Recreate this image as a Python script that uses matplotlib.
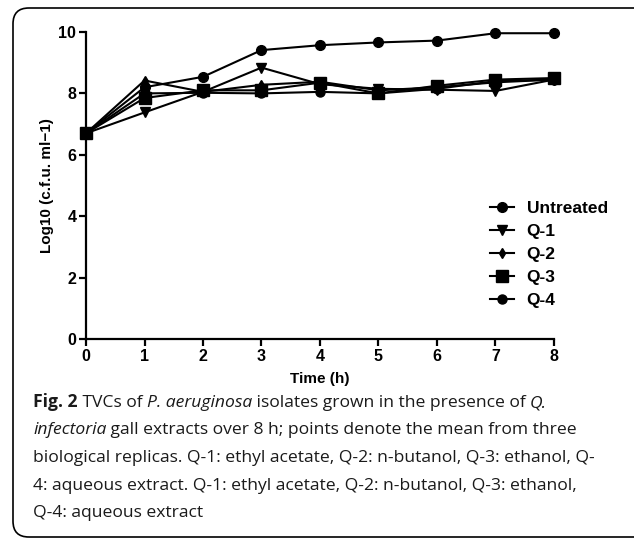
import matplotlib
matplotlib.use('Agg')
import matplotlib.pyplot as plt
from matplotlib.patches import FancyBboxPatch
import numpy as np

hours = [0, 1, 2, 3, 4, 5, 6, 7, 8]
untreated = [6.7, 8.2, 8.54, 9.41, 9.57, 9.66, 9.72, 9.96, 9.96]
q1 = [6.7, 7.38, 8.05, 8.84, 8.3, 8.15, 8.12, 8.08, 8.45]
q2 = [6.7, 8.42, 8.05, 8.28, 8.38, 8.1, 8.2, 8.36, 8.45]
q3 = [6.7, 7.85, 8.1, 8.1, 8.35, 8.0, 8.25, 8.45, 8.5]
q4 = [6.7, 8.0, 8.02, 8.0, 8.05, 8.0, 8.15, 8.4, 8.45]

series = [
    ('Untreated', untreated, 'o', 7),
    ('Q-1', q1, 'v', 7),
    ('Q-2', q2, 'd', 5),
    ('Q-3', q3, 's', 9),
    ('Q-4', q4, 'o', 6.5),
]

plt.rcParams['font.family'] = ['Liberation Sans', 'DejaVu Sans']

fig = plt.figure(figsize=(6.34, 5.40), dpi=100)

# rounded frame round the figure and caption
box = FancyBboxPatch((13 / 634, 3 / 540), 640 / 634, 529 / 540,
                     boxstyle='round,pad=0,rounding_size=0.025',
                     transform=fig.transFigure, fill=False,
                     edgecolor='black', linewidth=1.2, mutation_aspect=634 / 540)
fig.patches.append(box)

ax = fig.add_axes([86 / 634, 1 - 339 / 540, 468 / 634, 307 / 540])
for name, vals, mk, ms in series:
    ax.plot(hours, vals, color='black', marker=mk, markersize=ms,
            linewidth=1.5, label=name, clip_on=False)

ax.set_xlim(0, 8)
ax.set_ylim(0, 10)
ax.set_xticks(range(0, 9))
ax.set_yticks([0, 2, 4, 6, 8, 10])
for s in ['top', 'right']:
    ax.spines[s].set_visible(False)
for s in ['left', 'bottom']:
    ax.spines[s].set_linewidth(1.6)
ax.tick_params(width=1.6, length=5, labelsize=11.5, pad=2)
for lab in ax.get_xticklabels() + ax.get_yticklabels():
    lab.set_fontweight('bold')
ax.set_xlabel('Time (h)', fontsize=11, fontweight='bold', labelpad=6)
ax.set_ylabel('Log10 (c.f.u. ml\u22121)', fontsize=11, fontweight='bold', labelpad=3)

leg = ax.legend(loc='upper left', bbox_to_anchor=(0.83, 0.50), frameon=False,
                prop={'weight': 'bold', 'size': 12.5}, handlelength=1.4,
                handletextpad=0.7, labelspacing=0.45)

# caption
cap_font = ['Open Sans', 'DejaVu Sans']
fs = 12.6
lines = [
    [('Fig. 2', 'bold', 'normal'), (' TVCs of ', 'normal', 'normal'),
     ('P. aeruginosa', 'normal', 'italic'),
     (' isolates grown in the presence of ', 'normal', 'normal'),
     ('Q.', 'normal', 'italic')],
    [('infectoria', 'normal', 'italic'),
     (' gall extracts over 8 h; points denote the mean from three', 'normal', 'normal')],
    [('biological replicas. Q-1: ethyl acetate, Q-2: n-butanol, Q-3: ethanol, Q-', 'normal', 'normal')],
    [('4: aqueous extract. Q-1: ethyl acetate, Q-2: n-butanol, Q-3: ethanol,', 'normal', 'normal')],
    [('Q-4: aqueous extract', 'normal', 'normal')],
]
renderer = fig.canvas.get_renderer()
y0 = 1 - 407 / 540
for i, parts in enumerate(lines):
    x = 33 / 634
    for txt, wt, st in parts:
        t = fig.text(x, y0 - i * 27.5 / 540, txt, fontsize=fs,
                     fontweight=wt, fontstyle=st, family=cap_font,
                     va='baseline', ha='left', color='#1a1a1a')
        bb = t.get_window_extent(renderer)
        x = fig.transFigure.inverted().transform((bb.x1, 0))[0]

fig.savefig('out.png', dpi=100)
